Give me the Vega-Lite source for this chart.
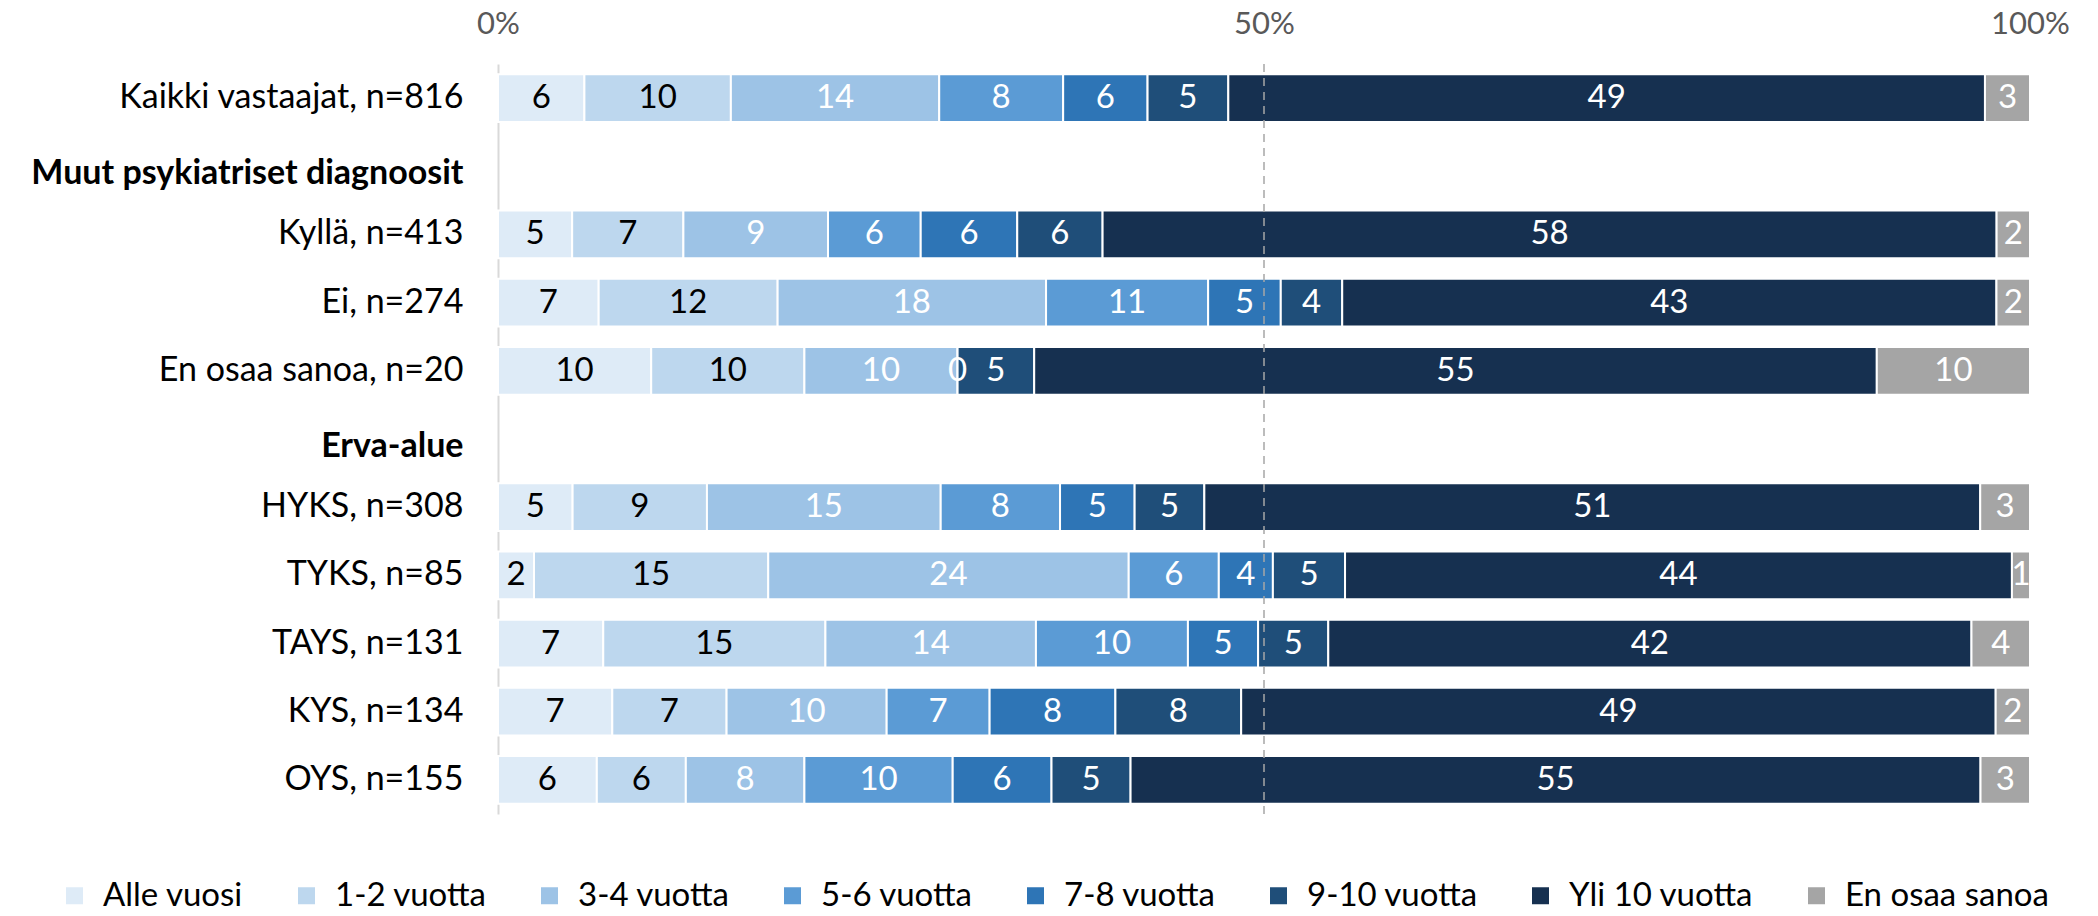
{
  "$schema": "https://vega.github.io/schema/vega-lite/v6.json",
  "width": 1532,
  "height": 750,
  "autosize": {"type": "none"},
  "padding": {"left": 498, "top": 64, "right": 68, "bottom": 102},
  "background": "white",
  "config": {
    "view": {"stroke": null},
    "font": "Lato",
    "axis": {"labelFont": "Lato", "grid": false},
    "legend": {"labelFont": "Lato"}
  },
  "layer": [
    {
      "data": {
        "values": [
          {"row": "Kaikki vastaajat, n=816", "cat": "Alle vuosi", "pct": 5.64, "label": "6"},
          {"row": "Kaikki vastaajat, n=816", "cat": "1-2 vuotta", "pct": 9.56, "label": "10"},
          {"row": "Kaikki vastaajat, n=816", "cat": "3-4 vuotta", "pct": 13.60, "label": "14"},
          {"row": "Kaikki vastaajat, n=816", "cat": "5-6 vuotta", "pct": 8.09, "label": "8"},
          {"row": "Kaikki vastaajat, n=816", "cat": "7-8 vuotta", "pct": 5.51, "label": "6"},
          {"row": "Kaikki vastaajat, n=816", "cat": "9-10 vuotta", "pct": 5.27, "label": "5"},
          {"row": "Kaikki vastaajat, n=816", "cat": "Yli 10 vuotta", "pct": 49.39, "label": "49"},
          {"row": "Kaikki vastaajat, n=816", "cat": "En osaa sanoa", "pct": 2.94, "label": "3"},
          {"row": "Kyllä, n=413", "cat": "Alle vuosi", "pct": 4.84, "label": "5"},
          {"row": "Kyllä, n=413", "cat": "1-2 vuotta", "pct": 7.26, "label": "7"},
          {"row": "Kyllä, n=413", "cat": "3-4 vuotta", "pct": 9.44, "label": "9"},
          {"row": "Kyllä, n=413", "cat": "5-6 vuotta", "pct": 6.05, "label": "6"},
          {"row": "Kyllä, n=413", "cat": "7-8 vuotta", "pct": 6.30, "label": "6"},
          {"row": "Kyllä, n=413", "cat": "9-10 vuotta", "pct": 5.57, "label": "6"},
          {"row": "Kyllä, n=413", "cat": "Yli 10 vuotta", "pct": 58.35, "label": "58"},
          {"row": "Kyllä, n=413", "cat": "En osaa sanoa", "pct": 2.18, "label": "2"},
          {"row": "Ei, n=274", "cat": "Alle vuosi", "pct": 6.57, "label": "7"},
          {"row": "Ei, n=274", "cat": "1-2 vuotta", "pct": 11.68, "label": "12"},
          {"row": "Ei, n=274", "cat": "3-4 vuotta", "pct": 17.52, "label": "18"},
          {"row": "Ei, n=274", "cat": "5-6 vuotta", "pct": 10.58, "label": "11"},
          {"row": "Ei, n=274", "cat": "7-8 vuotta", "pct": 4.74, "label": "5"},
          {"row": "Ei, n=274", "cat": "9-10 vuotta", "pct": 4.01, "label": "4"},
          {"row": "Ei, n=274", "cat": "Yli 10 vuotta", "pct": 42.70, "label": "43"},
          {"row": "Ei, n=274", "cat": "En osaa sanoa", "pct": 2.19, "label": "2"},
          {"row": "En osaa sanoa, n=20", "cat": "Alle vuosi", "pct": 10, "label": "10"},
          {"row": "En osaa sanoa, n=20", "cat": "1-2 vuotta", "pct": 10, "label": "10"},
          {"row": "En osaa sanoa, n=20", "cat": "3-4 vuotta", "pct": 10, "label": "10"},
          {"row": "En osaa sanoa, n=20", "cat": "5-6 vuotta", "pct": 0, "label": "0"},
          {"row": "En osaa sanoa, n=20", "cat": "9-10 vuotta", "pct": 5, "label": "5"},
          {"row": "En osaa sanoa, n=20", "cat": "Yli 10 vuotta", "pct": 55, "label": "55"},
          {"row": "En osaa sanoa, n=20", "cat": "En osaa sanoa", "pct": 10, "label": "10"},
          {"row": "HYKS, n=308", "cat": "Alle vuosi", "pct": 4.87, "label": "5"},
          {"row": "HYKS, n=308", "cat": "1-2 vuotta", "pct": 8.77, "label": "9"},
          {"row": "HYKS, n=308", "cat": "3-4 vuotta", "pct": 15.26, "label": "15"},
          {"row": "HYKS, n=308", "cat": "5-6 vuotta", "pct": 7.79, "label": "8"},
          {"row": "HYKS, n=308", "cat": "7-8 vuotta", "pct": 4.87, "label": "5"},
          {"row": "HYKS, n=308", "cat": "9-10 vuotta", "pct": 4.55, "label": "5"},
          {"row": "HYKS, n=308", "cat": "Yli 10 vuotta", "pct": 50.65, "label": "51"},
          {"row": "HYKS, n=308", "cat": "En osaa sanoa", "pct": 3.25, "label": "3"},
          {"row": "TYKS, n=85", "cat": "Alle vuosi", "pct": 2.35, "label": "2"},
          {"row": "TYKS, n=85", "cat": "1-2 vuotta", "pct": 15.29, "label": "15"},
          {"row": "TYKS, n=85", "cat": "3-4 vuotta", "pct": 23.53, "label": "24"},
          {"row": "TYKS, n=85", "cat": "5-6 vuotta", "pct": 5.88, "label": "6"},
          {"row": "TYKS, n=85", "cat": "7-8 vuotta", "pct": 3.53, "label": "4"},
          {"row": "TYKS, n=85", "cat": "9-10 vuotta", "pct": 4.71, "label": "5"},
          {"row": "TYKS, n=85", "cat": "Yli 10 vuotta", "pct": 43.53, "label": "44"},
          {"row": "TYKS, n=85", "cat": "En osaa sanoa", "pct": 1.18, "label": "1"},
          {"row": "TAYS, n=131", "cat": "Alle vuosi", "pct": 6.87, "label": "7"},
          {"row": "TAYS, n=131", "cat": "1-2 vuotta", "pct": 14.50, "label": "15"},
          {"row": "TAYS, n=131", "cat": "3-4 vuotta", "pct": 13.74, "label": "14"},
          {"row": "TAYS, n=131", "cat": "5-6 vuotta", "pct": 9.92, "label": "10"},
          {"row": "TAYS, n=131", "cat": "7-8 vuotta", "pct": 4.58, "label": "5"},
          {"row": "TAYS, n=131", "cat": "9-10 vuotta", "pct": 4.58, "label": "5"},
          {"row": "TAYS, n=131", "cat": "Yli 10 vuotta", "pct": 41.98, "label": "42"},
          {"row": "TAYS, n=131", "cat": "En osaa sanoa", "pct": 3.82, "label": "4"},
          {"row": "KYS, n=134", "cat": "Alle vuosi", "pct": 7.46, "label": "7"},
          {"row": "KYS, n=134", "cat": "1-2 vuotta", "pct": 7.46, "label": "7"},
          {"row": "KYS, n=134", "cat": "3-4 vuotta", "pct": 10.45, "label": "10"},
          {"row": "KYS, n=134", "cat": "5-6 vuotta", "pct": 6.72, "label": "7"},
          {"row": "KYS, n=134", "cat": "7-8 vuotta", "pct": 8.21, "label": "8"},
          {"row": "KYS, n=134", "cat": "9-10 vuotta", "pct": 8.21, "label": "8"},
          {"row": "KYS, n=134", "cat": "Yli 10 vuotta", "pct": 49.25, "label": "49"},
          {"row": "KYS, n=134", "cat": "En osaa sanoa", "pct": 2.24, "label": "2"},
          {"row": "OYS, n=155", "cat": "Alle vuosi", "pct": 6.45, "label": "6"},
          {"row": "OYS, n=155", "cat": "1-2 vuotta", "pct": 5.81, "label": "6"},
          {"row": "OYS, n=155", "cat": "3-4 vuotta", "pct": 7.74, "label": "8"},
          {"row": "OYS, n=155", "cat": "5-6 vuotta", "pct": 9.68, "label": "10"},
          {"row": "OYS, n=155", "cat": "7-8 vuotta", "pct": 6.45, "label": "6"},
          {"row": "OYS, n=155", "cat": "9-10 vuotta", "pct": 5.16, "label": "5"},
          {"row": "OYS, n=155", "cat": "Yli 10 vuotta", "pct": 55.48, "label": "55"},
          {"row": "OYS, n=155", "cat": "En osaa sanoa", "pct": 3.23, "label": "3"}
        ]
      },
      "transform": [
        {"calculate": "indexof(['Alle vuosi','1-2 vuotta','3-4 vuotta','5-6 vuotta','7-8 vuotta','9-10 vuotta','Yli 10 vuotta','En osaa sanoa'], datum.cat)", "as": "ord"},
        {"stack": "pct", "groupby": ["row"], "sort": [{"field": "ord", "order": "ascending"}], "offset": "normalize", "as": ["x0", "x1"]},
        {"calculate": "(datum.x0 + datum.x1) / 2", "as": "mid"}
      ],
      "layer": [
        {
          "mark": {"type": "bar", "stroke": "white", "strokeWidth": 2},
          "encoding": {
            "y": {
              "field": "row", "type": "nominal",
              "scale": {
                "domain": ["Kaikki vastaajat, n=816", "Muut psykiatriset diagnoosit", "Kyllä, n=413", "Ei, n=274", "En osaa sanoa, n=20", "Erva-alue", "HYKS, n=308", "TYKS, n=85", "TAYS, n=131", "KYS, n=134", "OYS, n=155"],
                "paddingInner": 0.3, "paddingOuter": 0.15
              },
              "axis": {
                "title": null, "ticks": false, "domain": true, "domainColor": "#D9D9D9", "domainWidth": 2,
                "labelFontSize": 34, "labelColor": "black", "labelPadding": 35, "labelLimit": 700,
                "labelFontWeight": {"condition": {"test": "datum.value === 'Muut psykiatriset diagnoosit' || datum.value === 'Erva-alue'", "value": "bold"}, "value": "normal"},
                "labelOffset": {"condition": {"test": "datum.value === 'Muut psykiatriset diagnoosit' || datum.value === 'Erva-alue'", "value": 8}, "value": 0}
              }
            },
            "x": {
              "field": "x0", "type": "quantitative",
              "scale": {"domain": [0, 1], "nice": false, "zero": true},
              "axis": {"orient": "top", "title": null, "values": [0, 0.5, 1], "format": ".0%", "ticks": false, "domain": false, "grid": false, "labelFlush": false, "labelFontSize": 31, "labelColor": "#595959", "labelPadding": 24}
            },
            "x2": {"field": "x1"},
            "color": {
              "field": "cat", "type": "nominal",
              "scale": {
                "domain": ["Alle vuosi", "1-2 vuotta", "3-4 vuotta", "5-6 vuotta", "7-8 vuotta", "9-10 vuotta", "Yli 10 vuotta", "En osaa sanoa"],
                "range": ["#DEEBF7", "#BDD7EE", "#9DC3E6", "#5B9BD5", "#2E75B6", "#1F4E79", "#163050", "#A5A5A5"]
              },
              "legend": {
                "title": null, "orient": "none", "direction": "horizontal", "columns": 8,
                "legendX": -440, "legendY": 815,
                "symbolType": "square", "symbolSize": 289, "symbolStrokeWidth": 0,
                "labelFontSize": 33, "labelColor": "black", "labelOffset": 12, "columnPadding": 46, "labelLimit": 400
              }
            }
          }
        },
        {
          "mark": {"type": "text", "fontSize": 33, "baseline": "middle", "align": "center", "font": "Lato"},
          "encoding": {
            "y": {"field": "row", "type": "nominal"},
            "x": {"field": "mid", "type": "quantitative"},
            "text": {"field": "label"},
            "color": {"condition": {"test": "datum.cat === 'Alle vuosi' || datum.cat === '1-2 vuotta'", "value": "black"}, "value": "white"}
          }
        }
      ]
    },
    {
      "data": {"values": [{"v": 0.5}]},
      "mark": {"type": "rule", "color": "#A6A6A6", "strokeWidth": 1.5, "strokeDash": [8, 6]},
      "encoding": {"x": {"field": "v", "type": "quantitative"}}
    }
  ]
}
